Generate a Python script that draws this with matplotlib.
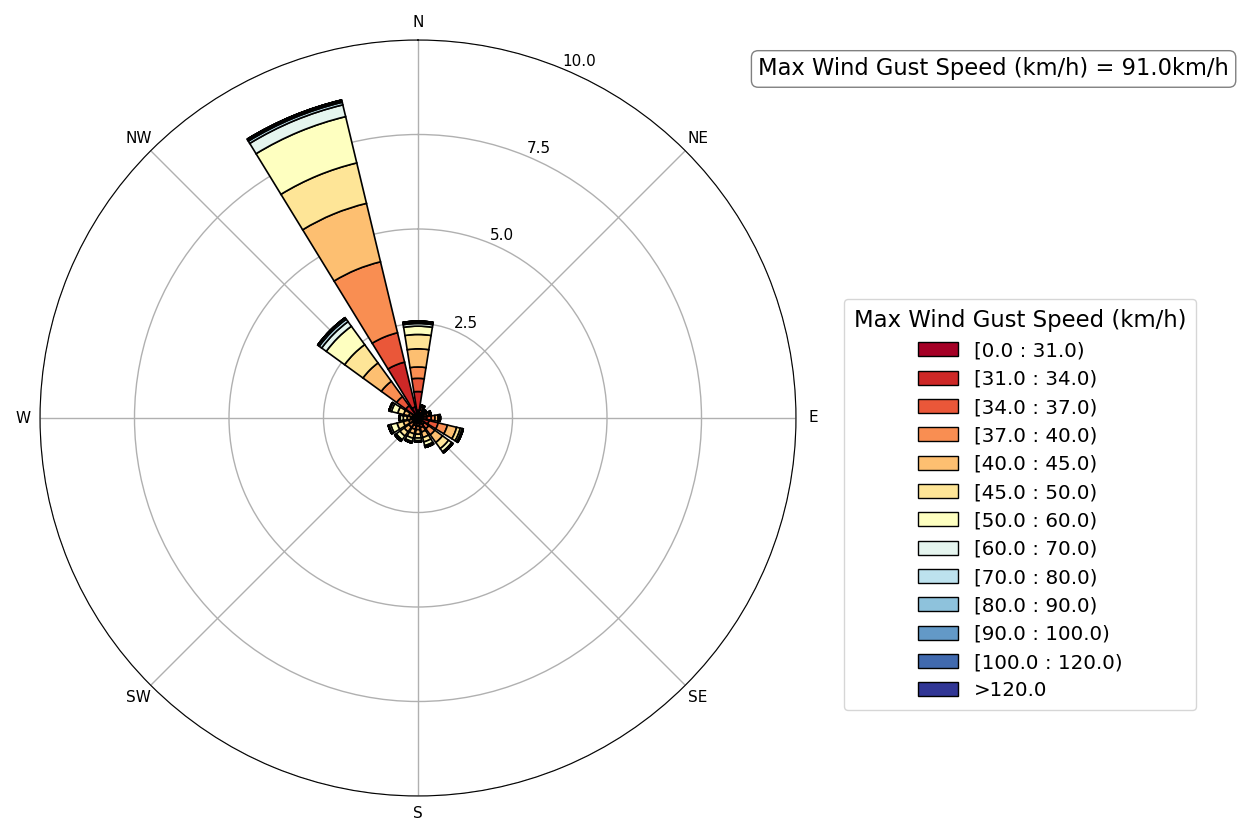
import numpy as np
import matplotlib
matplotlib.use("Agg")
import matplotlib.pyplot as plt
from matplotlib.patches import Patch

# speed classes (km/h)
bin_labels = ["[0.0 : 31.0)", "[31.0 : 34.0)", "[34.0 : 37.0)", "[37.0 : 40.0)",
              "[40.0 : 45.0)", "[45.0 : 50.0)", "[50.0 : 60.0)", "[60.0 : 70.0)",
              "[70.0 : 80.0)", "[80.0 : 90.0)", "[90.0 : 100.0)", "[100.0 : 120.0)",
              ">120.0"]

dir_names = ["N", "NNE", "NE", "ENE", "E", "ESE", "SE", "SSE",
             "S", "SSW", "SW", "WSW", "W", "WNW", "NW", "NNW"]

# frequency (%) per speed class, one list per direction
N   = [0.20, 0.50, 0.35, 0.30, 0.48, 0.38, 0.22, 0.07, 0.04, 0.02, 0, 0, 0]
NNE = [0.05, 0.10, 0.08, 0.06, 0.04, 0.02, 0, 0, 0, 0, 0, 0, 0]
NE  = [0.05, 0.08, 0.06, 0.04, 0.03, 0.01, 0, 0, 0, 0, 0, 0, 0]
ENE = [0.06, 0.10, 0.08, 0.06, 0.04, 0.02, 0, 0, 0, 0, 0, 0, 0]
E   = [0.08, 0.15, 0.12, 0.10, 0.08, 0.04, 0.02, 0, 0, 0, 0, 0, 0]
ESE = [0.10, 0.20, 0.25, 0.25, 0.25, 0.10, 0.05, 0.02, 0.01, 0, 0, 0, 0]
SE  = [0.08, 0.12, 0.15, 0.20, 0.25, 0.20, 0.10, 0.03, 0.01, 0, 0, 0, 0]
SSE = [0.06, 0.10, 0.10, 0.12, 0.15, 0.12, 0.10, 0.03, 0.02, 0, 0, 0, 0]
S   = [0.05, 0.08, 0.08, 0.10, 0.12, 0.10, 0.07, 0.02, 0.01, 0, 0, 0, 0]
SSW = [0.05, 0.08, 0.08, 0.10, 0.12, 0.12, 0.09, 0.03, 0.01, 0, 0, 0, 0]
SW  = [0.04, 0.06, 0.08, 0.12, 0.15, 0.14, 0.12, 0.04, 0.01, 0, 0, 0, 0]
WSW = [0.03, 0.05, 0.07, 0.10, 0.15, 0.17, 0.17, 0.05, 0.02, 0, 0, 0, 0]
W   = [0.03, 0.04, 0.05, 0.07, 0.10, 0.10, 0.08, 0.02, 0.01, 0, 0, 0, 0]
WNW = [0.03, 0.05, 0.07, 0.10, 0.14, 0.16, 0.17, 0.05, 0.02, 0, 0, 0, 0]
NW  = [0.10, 0.30, 0.30, 0.50, 0.60, 0.60, 0.60, 0.15, 0.08, 0.05, 0, 0, 0]
NNW = [0.30, 1.22, 0.80, 1.93, 1.59, 1.10, 1.26, 0.32, 0.07, 0.04, 0.02, 0, 0]

max_gust = 91.0

table = np.array([N, NNE, NE, ENE, E, ESE, SE, SSE, S, SSW, SW, WSW, W, WNW, NW, NNW])
ndir = len(dir_names)
theta = np.deg2rad(np.arange(ndir) * 360.0 / ndir)
width = np.deg2rad(360.0 / ndir) * 0.8
colors = plt.cm.RdYlBu(np.linspace(0, 1, len(bin_labels)))

fig = plt.figure(figsize=(12.42, 8.26), dpi=100)
ax = fig.add_axes([40/1242, 30/826, 756/1242, 756/826], projection="polar")
ax.set_theta_zero_location("N")
ax.set_theta_direction(-1)

bottom = np.zeros(ndir)
for j in range(len(bin_labels)):
    ax.bar(theta, table[:, j], width=width, bottom=bottom, color=colors[j],
           edgecolor="black", linewidth=1.2, zorder=2)
    bottom += table[:, j]

ax.set_ylim(0, 10)
ax.set_rgrids([2.5, 5.0, 7.5, 10.0], ["2.5", "5.0", "7.5", "10.0"], angle=22.5, fontsize=11)
ax.set_thetagrids(np.arange(0, 360, 45), ["N", "NE", "E", "SE", "S", "SW", "W", "NW"], fontsize=11)
ax.tick_params(axis="x", pad=2)
ax.grid(True, color="#b0b0b0", linewidth=1)
ax.set_axisbelow(True)

handles = [Patch(facecolor=colors[j], edgecolor="black", label=bin_labels[j])
           for j in range(len(bin_labels))]
fig.legend(handles=handles, title="Max Wind Gust Speed (km/h)", loc="center left",
           bbox_to_anchor=(834/1242, 0.389), fontsize=14.3, title_fontsize=16.4,
           handlelength=2.0, labelspacing=0.47, borderpad=0.5)

fig.text(0.9895, 0.9165, "Max Wind Gust Speed (km/h) = %.1fkm/h" % max_gust,
         ha="right", va="center", fontsize=16.3,
         bbox=dict(boxstyle="round,pad=0.3", facecolor="white", edgecolor="gray"))

fig.savefig("out.png", dpi=100)
